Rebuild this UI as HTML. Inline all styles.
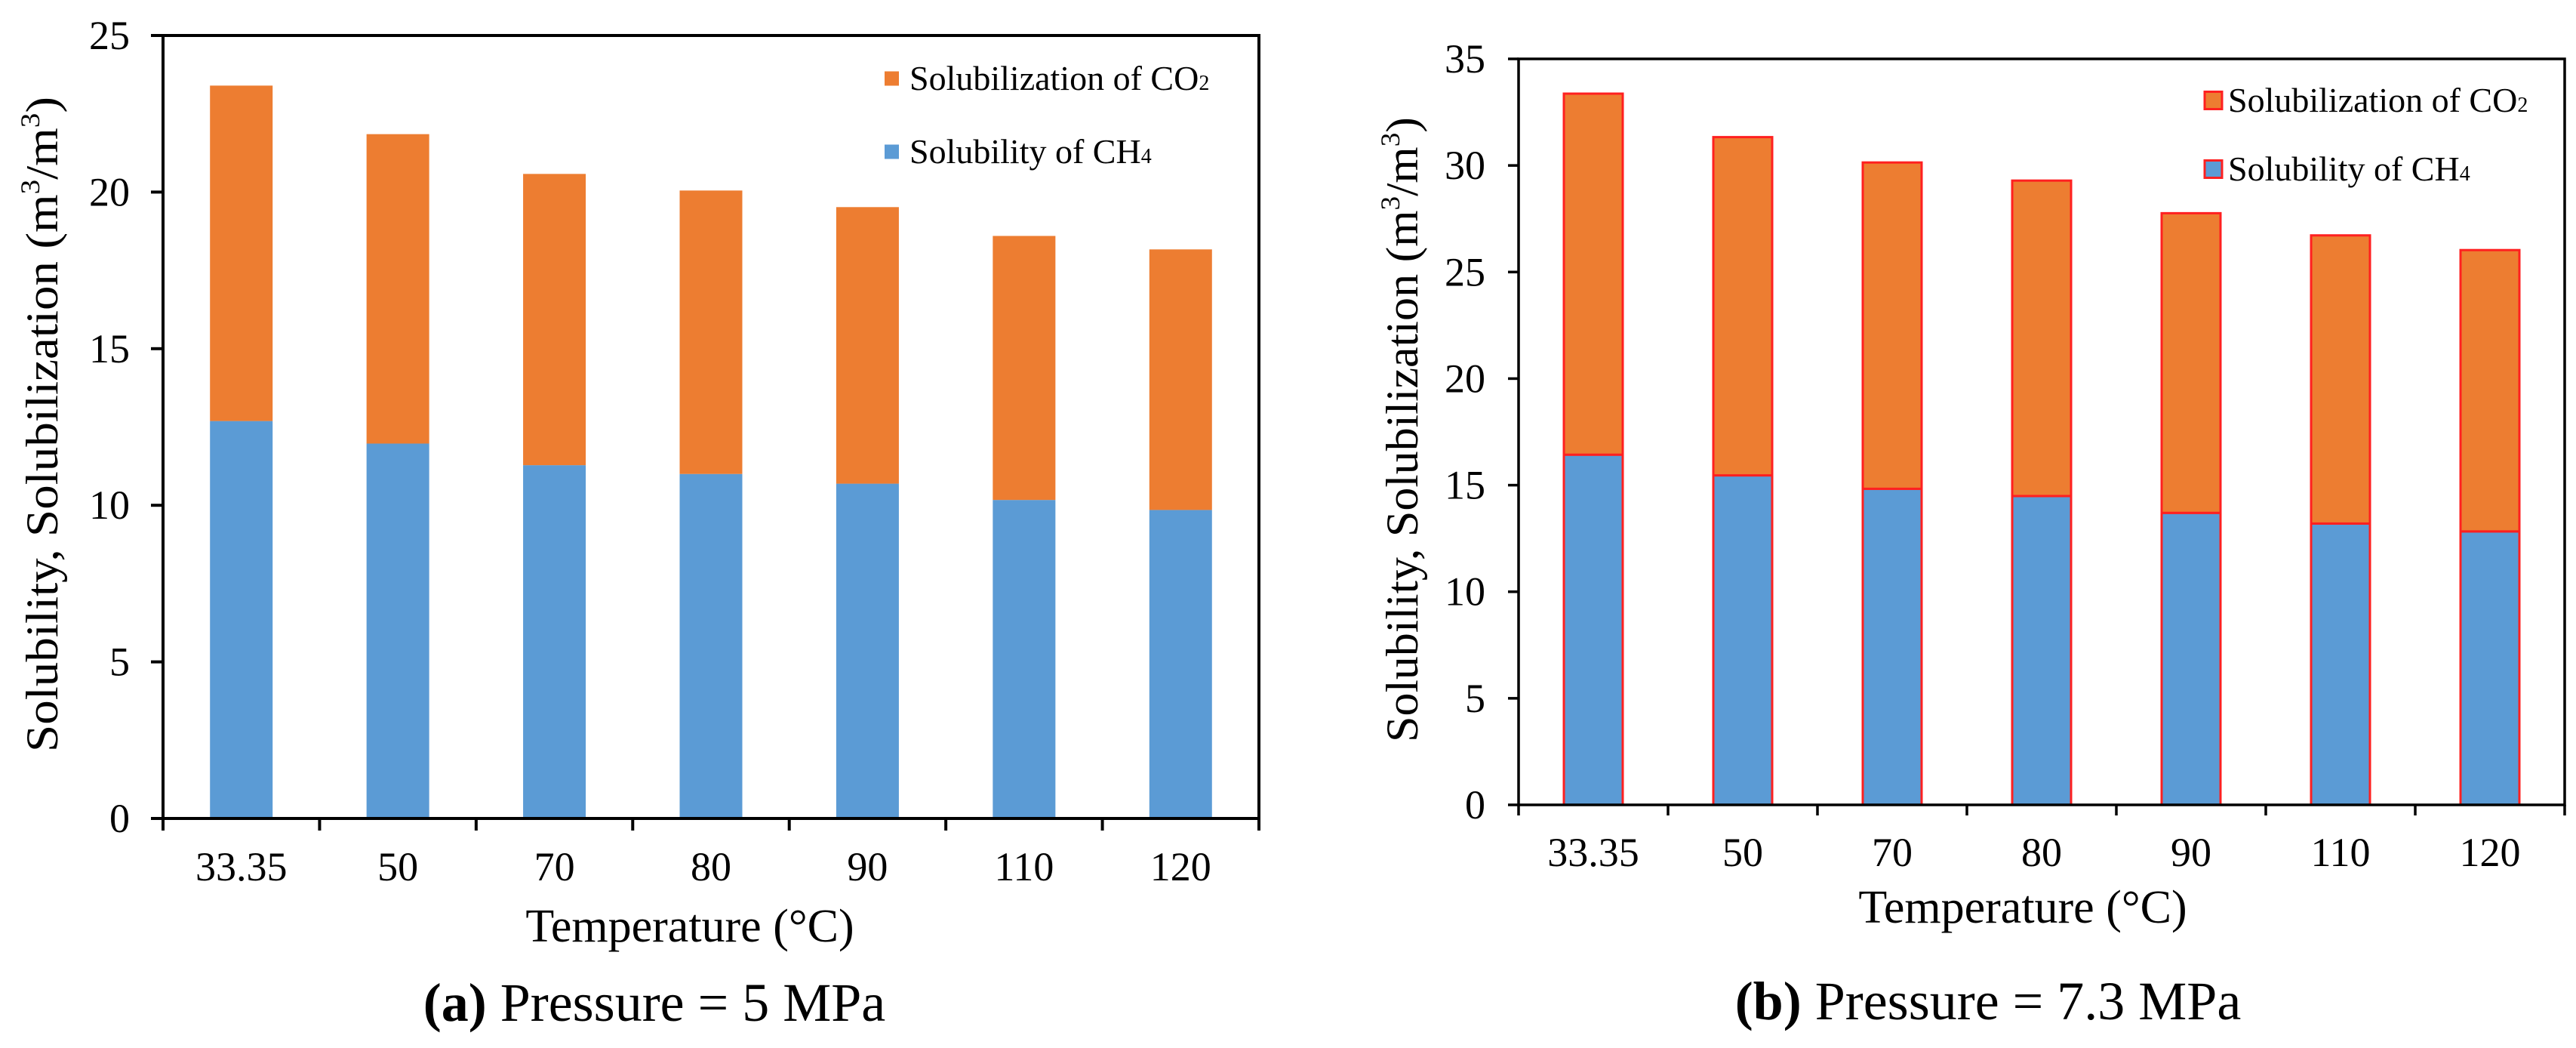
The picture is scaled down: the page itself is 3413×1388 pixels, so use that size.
<!DOCTYPE html>
<html><head><meta charset="utf-8"><style>
html,body{margin:0;padding:0;background:#fff;}
svg{display:block;font-family:"Liberation Serif",serif;}
</style></head><body>
<svg id="fig" width="3413" height="1388" viewBox="0 0 3413 1388" xmlns="http://www.w3.org/2000/svg">
<g id="chartA"></g>
<g id="chartB"></g>
<text x="867" y="1352" font-size="72" text-anchor="middle"><tspan font-weight="bold">(a)</tspan> Pressure = 5 MPa</text>
<text x="2634" y="1350" font-size="72" text-anchor="middle"><tspan font-weight="bold">(b)</tspan> Pressure = 7.3 MPa</text>
</svg>
<script>
const categories = ["33.35","50","70","80","90","110","120"];
const ch4A = [12.69, 11.97, 11.28, 11.0, 10.69, 10.17, 9.85];
const co2A = [10.71, 9.88, 9.30, 9.05, 8.83, 8.43, 8.32];
const ch4B = [16.43, 15.46, 14.83, 14.49, 13.70, 13.20, 12.83];
const co2B = [16.94, 15.87, 15.31, 14.80, 14.06, 13.52, 13.20];
const yTicksA = [0,5,10,15,20,25];
const yTicksB = [0,5,10,15,20,25,30,35];

const NS = "http://www.w3.org/2000/svg";
function mk(parent, tag, attrs, text){
  const e = document.createElementNS(NS, tag);
  for (const k in attrs) e.setAttribute(k, attrs[k]);
  if (text !== undefined) e.textContent = text;
  parent.appendChild(e);
  return e;
}
function drawChart(g, cfg){
  const yScale = v => cfg.y0 - (v / cfg.yMax) * (cfg.y0 - cfg.yTop);
  const step = (cfg.xR - cfg.xL) / categories.length;
  const xCenter = i => cfg.xL + step * (i + 0.5);
  // bars
  categories.forEach((c, i) => {
    const x = xCenter(i) - cfg.barW / 2;
    const yb = yScale(cfg.ch4[i]);
    const r1 = mk(g, "rect", {x:x, y:yb, width:cfg.barW, height:cfg.y0 - yb, fill:"#5b9bd5",
      stroke:cfg.stroke || "none", "stroke-width":cfg.stroke ? 3 : 0});
    
    
    const yt = yScale(cfg.ch4[i] + cfg.co2[i]);
    const r2 = mk(g, "rect", {x:x, y:yt, width:cfg.barW, height:yb - yt, fill:"#ed7d31",
      stroke:cfg.stroke || "none", "stroke-width":cfg.stroke ? 3 : 0});
    
    
  });
  // frame
  const fr = mk(g, "rect", {x:cfg.xL, y:cfg.yTop, width:cfg.xR - cfg.xL, height:cfg.y0 - cfg.yTop, fill:"none", stroke:"#000", "stroke-width":cfg.lw});
  
  
  // y ticks
  cfg.yTicks.forEach(t => {
    const y = yScale(t);
    const tl = mk(g, "line", {x1:cfg.xL - cfg.tick, x2:cfg.xL, y1:y, y2:y, stroke:"#000", "stroke-width":cfg.lw});
    
    
    const tx = mk(g, "text", {x:cfg.yLabR, y:y + 18, "font-size":54, "text-anchor":"end"}, String(t));
    
    
  });
  // x ticks
  for (let i = 0; i <= categories.length; i++){
    const x = cfg.xL + step * i;
    const tl = mk(g, "line", {x1:x, x2:x, y1:cfg.y0, y2:cfg.y0 + cfg.tick, stroke:"#000", "stroke-width":cfg.lw});
    
    
  }
  categories.forEach((c, i) => {
    const tx = mk(g, "text", {x:xCenter(i), y:cfg.xLabY, "font-size":54, "text-anchor":"middle"}, c);
    
    
  });
  // x title
  const xt = mk(g, "text", {x:cfg.xTitleX, y:cfg.xTitleY, "font-size":62, "text-anchor":"middle"}, "Temperature (°C)");
  
  
  // y title
  const yt = mk(g, "text", {x:0, y:0, "font-size":60, "text-anchor":"middle",
    transform:"translate(" + cfg.yTitleX + "," + cfg.yTitleY + ") rotate(-90)",
    textLength:cfg.yTitleLen, lengthAdjust:"spacingAndGlyphs"});
  
  
  mk(yt, "tspan", {}, "Solubility, Solubilization (m");
  mk(yt, "tspan", {"font-size":36, dy:-24}, "3");
  mk(yt, "tspan", {dy:24}, "/m");
  mk(yt, "tspan", {"font-size":36, dy:-24}, "3");
  mk(yt, "tspan", {dy:24}, ")");
  // legend
  const items = [["Solubilization of CO","2","#ed7d31",cfg.legY1,"legend-entry-co2"],["Solubility of CH","4","#5b9bd5",cfg.legY2,"legend-entry-ch4"]];
  items.forEach(it => {
    const lg = mk(g, "g", {});
    
    
    mk(lg, "rect", {x:cfg.legX, y:it[3] - cfg.legS/2, width:cfg.legS, height:cfg.legS, fill:it[2],
      stroke:cfg.stroke || "none", "stroke-width":cfg.stroke ? 3 : 0});
    const t = mk(lg, "text", {x:cfg.legTX, y:it[3] + 15, "font-size":46});
    mk(t, "tspan", {}, it[0]);
    mk(t, "tspan", {"font-size":28}, it[1]);
  });
}
drawChart(document.getElementById("chartA"), {
  ch4:ch4A, co2:co2A, yTicks:yTicksA, yMax:25,
  xL:216, xR:1668, yTop:47, y0:1084, barW:83, lw:4, tick:16,
  yLabR:172, xLabY:1166, xTitleX:914, xTitleY:1247,
  yTitleX:76, yTitleY:562, yTitleLen:868,
  legX:1172, legS:19, legTX:1205, legY1:104, legY2:201
});
drawChart(document.getElementById("chartB"), {
  ch4:ch4B, co2:co2B, yTicks:yTicksB, yMax:35, stroke:"#ff2020",
  xL:2012, xR:3398, yTop:78, y0:1066, barW:78, lw:3.5, tick:14,
  yLabR:1968, xLabY:1147, xTitleX:2680, xTitleY:1222,
  yTitleX:1878, yTitleY:569, yTitleLen:828,
  legX:2921, legS:23, legTX:2952, legY1:133, legY2:224
});
</script>
</body></html>
